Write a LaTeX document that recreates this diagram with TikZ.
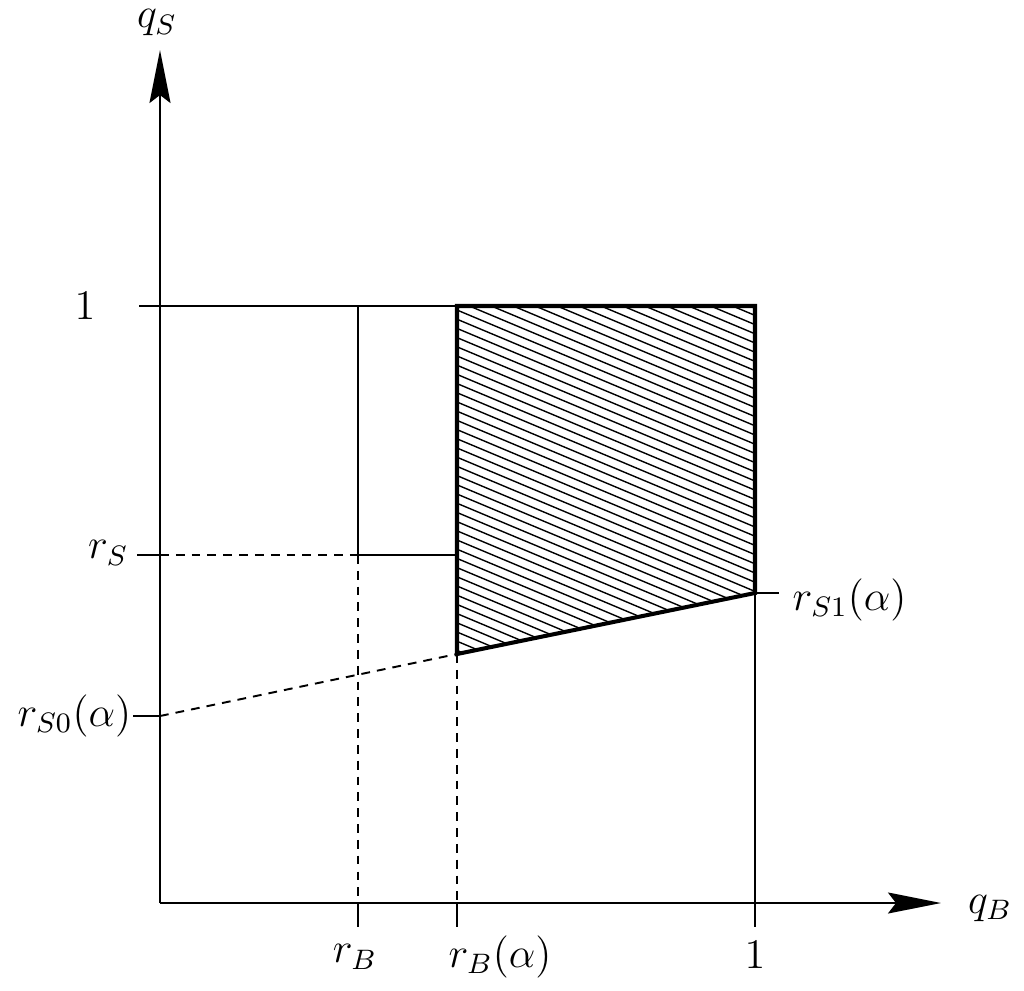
\documentclass[tikz,border=0pt]{standalone}
\usetikzlibrary{arrows.meta}
\begin{document}
\begin{tikzpicture}[x=0.01cm,y=-0.01cm,
  thinline/.style={line width=0.55pt},
  thickline/.style={line width=1.15pt},
  hatchline/.style={line width=0.4pt},
  dashline/.style={line width=0.55pt, dash pattern=on 2.5pt off 2pt},
  axisarrow/.style={line width=0.55pt, -{Stealth[length=5.3mm,width=2.1mm,inset=0.8mm]}},
  lbl/.style={inner sep=0pt, font=\fontsize{12}{14}\selectfont}]
\useasboundingbox (0,0) rectangle (1024,990);
% coordinates
\coordinate (O) at (160,903);
\coordinate (Xend) at (941,903);
\coordinate (Ytop) at (160,50);
\coordinate (Y1t) at (139,306);
\coordinate (Y1) at (160,306);
\coordinate (RB1) at (358,306);
\coordinate (A1) at (457,306);
\coordinate (B1) at (755,306);
\coordinate (RSt) at (137,555);
\coordinate (RSy) at (160,555);
\coordinate (RSb) at (358,555);
\coordinate (RSa) at (457,555);
\coordinate (S0t) at (133,716);
\coordinate (S0) at (160,716);
\coordinate (S0a) at (457,654);
\coordinate (S1) at (755,593);
\coordinate (S1t) at (779,593);
\coordinate (RBx) at (358,903);
\coordinate (RBt) at (358,927);
\coordinate (RAx) at (457,903);
\coordinate (RAt) at (457,927);
\coordinate (Ot) at (755,927);
% hatch
\begin{scope}
\clip (A1) -- (B1) -- (S1) -- (S0a) -- cycle;
\foreach \k in {0,...,55}
  \draw[hatchline] (457,172+9.2*\k) -- ++(298,125);
\end{scope}
% axes
\draw[axisarrow] (O) -- (Xend);
\draw[axisarrow] (O) -- (Ytop);
% thin lines
\draw[thinline] (Y1t) -- (A1);
\draw[thinline] (RB1) -- (RSb);
\draw[thinline] (RSt) -- (RSy);
\draw[dashline] (RSy) -- (RSb);
\draw[thinline] (RSb) -- (RSa);
\draw[dashline] (RSb) -- (RBx);
\draw[thinline] (RBx) -- (RBt);
\draw[dashline] (S0a) -- (RAx);
\draw[thinline] (RAx) -- (RAt);
\draw[thinline] (S0t) -- (S0);
\draw[dashline] (S0) -- (S0a);
\draw[thinline] (S1) -- (Ot);
\draw[thinline] (S1) -- (S1t);
% thick boundary
\draw[thickline, line join=miter] (S0a) -- (A1) -- (B1) -- (S1) -- cycle;
% labels
\node[lbl] (qS) at (157,23) {$q_S$};
\node[lbl] (qB) at (990,908) {$q_B$};
\node[lbl] (one y) at (85,306) {$1$};
\node[lbl,anchor=east] (rS) at (129,553) {$r_S$};
\node[lbl,anchor=east] (rS0) at (132,716) {$r_{S0}(\alpha)$};
\node[lbl,anchor=west] (rS1) at (792,600) {$r_{S1}(\alpha)$};
\node[lbl] (rB) at (355,957) {$r_B$};
\node[lbl] (rBa) at (500,957) {$r_B(\alpha)$};
\node[lbl] (one x) at (755,955) {$1$};
\end{tikzpicture}
\end{document}
